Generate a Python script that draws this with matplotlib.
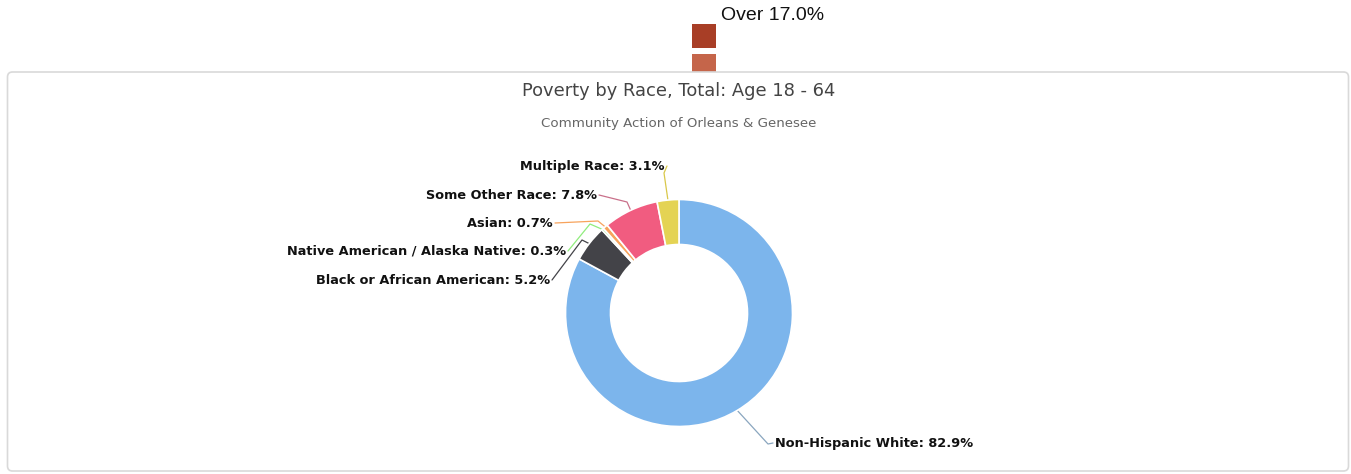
import matplotlib
matplotlib.use("Agg")
import matplotlib.pyplot as plt
from matplotlib.patches import FancyBboxPatch, Rectangle
import numpy as np

W, H = 1351, 474

# ---- data ----
categories = ["Non-Hispanic White", "Black or African American",
              "Native American / Alaska Native", "Asian",
              "Some Other Race", "Multiple Race"]
values = [82.9, 5.2, 0.3, 0.7, 7.8, 3.1]
colors = ["#7cb5ec", "#434348", "#90ed7d", "#f7a35c", "#f15c80", "#e4d354"]
connector_colors = ["#8aa6bf", "#434348", "#90ed7d", "#f7a35c", "#c9708a", "#d9c84a"]
title = "Poverty by Race, Total: Age 18 - 64"
subtitle = "Community Action of Orleans & Genesee"
legend_label = "Over 17.0%"
legend_colors = ["#a83e26", "#c5654a"]

fig = plt.figure(figsize=(W / 100, H / 100), dpi=100)
ax = fig.add_axes([0, 0, 1, 1])


def Y(y):
    return H - y


# chart box
box = FancyBboxPatch((7.5, Y(471)), 1341, 399, boxstyle="round,pad=0,rounding_size=5",
                     facecolor="white", edgecolor="#d9d9d9", linewidth=1.2, zorder=1)
ax.add_patch(box)

# top legend fragment
ax.add_patch(Rectangle((692, Y(48)), 24, 24, facecolor=legend_colors[0], edgecolor="none", zorder=2))
ax.add_patch(Rectangle((692, Y(72)), 24, 18, facecolor=legend_colors[1], edgecolor="none", zorder=0.5))
ax.text(721, Y(15), legend_label, fontsize=14, family="Liberation Sans",
        color="#111111", va="center", ha="left")

# titles
ax.text(679, Y(91), title, fontsize=12.9, color="#444444", ha="center", va="center",
        family="DejaVu Sans")
ax.text(679, Y(123), subtitle, fontsize=9.6, color="#666666", ha="center", va="center",
        family="DejaVu Sans")

# donut
cx, cy, R, r_in = 679, Y(313), 113.5, 68.5
wedges, _ = ax.pie(values, colors=colors, startangle=90, counterclock=False,
                   center=(cx, cy), radius=R,
                   wedgeprops=dict(width=R - r_in, edgecolor="white", linewidth=1.2))
for w in wedges:
    w.set_zorder(3)

# labels (text anchor positions in pixel space) and connector elbows
label_pos = [
    (775, 443, "left"),
    (550, 280, "right"),
    (566, 251, "right"),
    (553, 223, "right"),
    (597, 195, "right"),
    (665, 166, "right"),
]
elbows = [
    (768, 444),
    (582, 240),
    (590, 224),
    (598, 221),
    (627, 202),
    (664, 173),
]

for w, v, name, (lx, ly, ha), (ex, ey), cc in zip(wedges, values, categories, label_pos, elbows, connector_colors):
    ang = np.deg2rad((w.theta1 + w.theta2) / 2)
    px = cx + (R - 1) * np.cos(ang)
    py = cy + (R - 1) * np.sin(ang)
    ax.text(lx, Y(ly), f"{name}: {v}%", fontsize=9.3, fontweight="bold", color="#111111",
            ha=ha, va="center", family="DejaVu Sans", zorder=5)
    start_x = lx - 2 if ha == "left" else lx + 2
    ax.plot([start_x, ex, px], [Y(ly), Y(ey), py], color=cc, linewidth=0.9, zorder=2.5,
            solid_capstyle="round")

ax.set_xlim(0, W)
ax.set_ylim(0, H)
ax.set_aspect("auto")
ax.axis("off")

fig.savefig("out.png", dpi=100, facecolor="white")
